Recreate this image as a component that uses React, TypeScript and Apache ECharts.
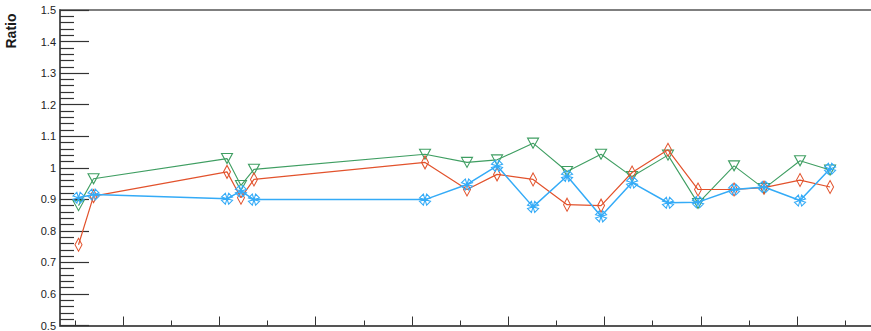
import { useEffect, useRef } from "react";
import * as echarts from "echarts";

// Measurement positions along the horizontal axis (major ticks fall on integers)
const positions = [
  0.538, 0.694, 2.08, 2.225, 2.36, 4.136, 4.572, 4.884, 5.258, 5.611, 5.964,
  6.286, 6.659, 6.971, 7.345, 7.656, 8.03, 8.342,
];

// Ratio values for the three series
const greenRatios = [
  0.88, 0.965, 1.029, 0.944, 0.995, 1.043, 1.017, 1.025, 1.078, 0.988, 1.043,
  0.972, 1.04, 0.887, 1.006, 0.934, 1.022, 0.993,
];
const redRatios = [
  0.756, 0.91, 0.987, 0.905, 0.963, 1.017, 0.931, 0.979, 0.963, 0.883, 0.88,
  0.985, 1.057, 0.931, 0.931, 0.937, 0.961, 0.939,
];
const blueRatios = [
  0.905, 0.915, 0.902, 0.926, 0.899, 0.899, 0.947, 1.006, 0.876, 0.974, 0.846,
  0.953, 0.889, 0.891, 0.931, 0.939, 0.896, 0.997,
];

const majorTicksX = [1, 2, 3, 4, 5, 6, 7, 8];
const minorTicksX = [0.5, 1.5, 2.5, 3.5, 4.5, 5.5, 6.5, 7.5, 8.5];

const X_MIN = 0.3458;
const X_MAX = 8.767;
const Y_MIN = 0.5;
const Y_MAX = 1.5;

const GREEN = "#3f9e62";
const RED = "#e2522c";
const BLUE = "#34abf7";
const AXIS = "#555555";

// Open "four triangles X" marker
const fourTrianglesX =
  "path://M10,10 L13,0 L20,7 Z M10,10 L20,13 L13,20 Z M10,10 L7,20 L0,13 Z M10,10 L0,7 L7,0 Z";

const pairs = (ys: number[]) => positions.map((x, i) => [x, ys[i]]);

export default function App() {
  const ref = useRef<HTMLDivElement>(null);

  useEffect(() => {
    if (!ref.current) return;
    const chart = echarts.init(ref.current, undefined, { renderer: "svg" });

    const baseX = {
      type: "value" as const,
      min: X_MIN,
      max: X_MAX,
      splitLine: { show: false },
      axisLabel: { show: false },
    };

    chart.setOption({
      animation: false,
      backgroundColor: "#ffffff",
      grid: { left: 60, right: 0, top: 10, bottom: 5, containLabel: false },
      xAxis: [
        {
          ...baseX,
          position: "bottom",
          axisLine: { show: true, lineStyle: { color: AXIS, width: 2 } },
          axisTick: {
            show: true,
            inside: true,
            length: 9,
            customValues: majorTicksX,
            lineStyle: { color: "#333", width: 1 },
          },
        },
        {
          ...baseX,
          position: "bottom",
          axisLine: { show: false },
          axisTick: {
            show: true,
            inside: true,
            length: 5,
            customValues: minorTicksX,
            lineStyle: { color: "#333", width: 1 },
          },
        },
        {
          ...baseX,
          position: "top",
          axisLine: { show: true, lineStyle: { color: AXIS, width: 1.5 } },
          axisTick: { show: false },
        },
      ],
      yAxis: {
        type: "value",
        min: Y_MIN,
        max: Y_MAX,
        interval: 0.1,
        splitLine: { show: false },
        axisLine: { show: true, lineStyle: { color: AXIS, width: 2 } },
        axisTick: {
          show: true,
          inside: true,
          length: 29,
          lineStyle: { color: "#333", width: 1.2 },
        },
        minorTick: {
          show: true,
          splitNumber: 5,
          length: 14,
          lineStyle: { color: "#333", width: 1.2 },
        },
        axisLabel: {
          margin: 4,
          fontSize: 11,
          fontFamily: "Liberation Sans Narrow, Liberation Sans, Arial, sans-serif",
          color: "#222",
          formatter: (v: number) => String(Number(v.toFixed(1))),
        },
      },
      graphic: [
        {
          type: "text",
          x: 11,
          y: 31,
          rotation: Math.PI / 2,
          style: {
            text: "Ratio",
            fontSize: 14,
            fontWeight: "bold",
            fontFamily: "Liberation Sans, Arial, sans-serif",
            fill: "#1a1a1a",
            align: "center",
            verticalAlign: "middle",
          },
        },
      ],
      series: [
        {
          type: "line",
          xAxisIndex: 0,
          data: pairs(greenRatios),
          symbol: "triangle",
          symbolRotate: 180,
          symbolSize: [11, 10],
          lineStyle: { color: GREEN, width: 1.1 },
          itemStyle: { color: "rgba(0,0,0,0)", borderColor: GREEN, borderWidth: 1.1 },
          z: 2,
        },
        {
          type: "line",
          xAxisIndex: 0,
          data: pairs(redRatios),
          symbol: "diamond",
          symbolSize: [7, 13],
          lineStyle: { color: RED, width: 1.2 },
          itemStyle: { color: "rgba(0,0,0,0)", borderColor: RED, borderWidth: 1.1 },
          z: 3,
        },
        {
          type: "line",
          xAxisIndex: 0,
          data: pairs(blueRatios),
          symbol: fourTrianglesX,
          symbolSize: 11,
          lineStyle: { color: BLUE, width: 1.5 },
          itemStyle: { color: "rgba(0,0,0,0)", borderColor: BLUE, borderWidth: 1.1 },
          z: 4,
        },
      ],
    });

    return () => chart.dispose();
  }, []);

  return (
    <div
      ref={ref}
      style={{ position: "absolute", left: 0, top: 0, width: 871, height: 331 }}
    />
  );
}
